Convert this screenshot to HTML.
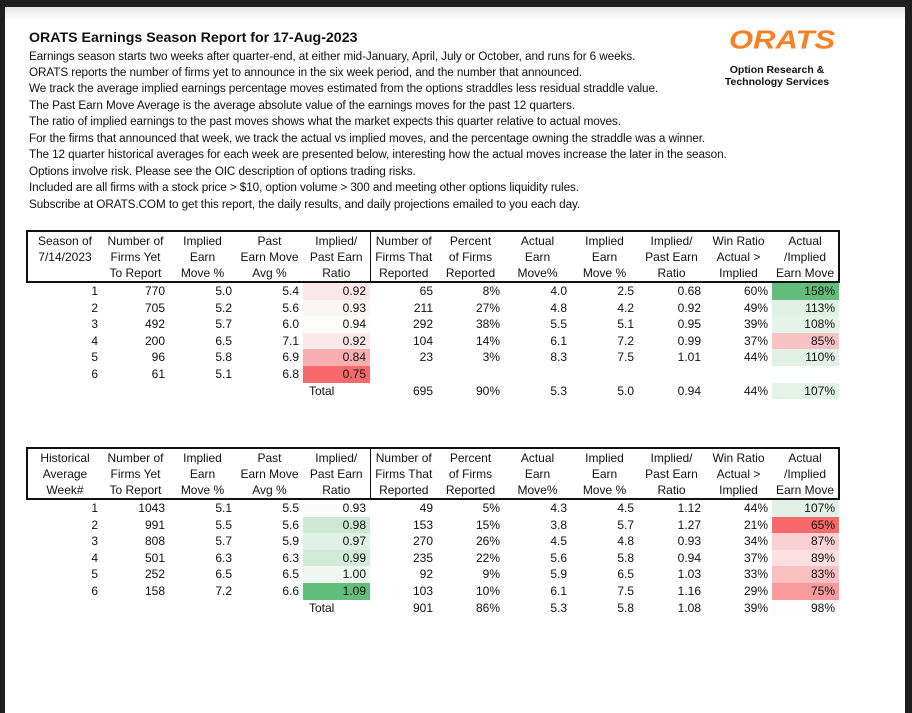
<!DOCTYPE html>
<html><head><meta charset="utf-8"><style>
*{margin:0;padding:0;box-sizing:border-box}
body{width:912px;height:713px;background:#1e1e1e;position:relative;overflow:hidden;font-family:"Liberation Sans",sans-serif;color:#111}
#page{position:absolute;left:5px;top:7px;width:900px;height:706px;background:#fff}
#band{position:absolute;left:0;top:0;width:900px;height:14px;background:linear-gradient(#e6e6e6,#fff)}
.t{position:absolute;left:29px;font-size:11.75px;white-space:nowrap;letter-spacing:-0.1px}
h1{position:absolute;left:29px;top:30px;font-size:14.2px;font-weight:bold;white-space:nowrap}
table{position:absolute;left:26px;border-collapse:collapse;table-layout:fixed;font-size:12px}
td{height:16.6px;text-align:right;padding-right:4px;white-space:nowrap;line-height:16.6px}
th{font-weight:normal;text-align:center;line-height:16px;vertical-align:top;padding-top:1px;height:50px}
thead tr{border:2.5px solid #111}
th.d{border-left:1.5px solid #111}
.logo{position:absolute;left:729px;top:22px;font-size:31px;font-weight:bold;color:#f58025;letter-spacing:0px;font-style:italic;transform:scaleY(0.85)}
.lt{position:absolute;left:722px;width:110px;text-align:center;font-size:10.5px;font-weight:bold;line-height:12px}
</style></head><body>
<div id="page"><div id="band"></div></div>
<h1>ORATS Earnings Season Report for 17-Aug-2023</h1>
<div class="t" style="top:50px">Earnings season starts two weeks after quarter-end, at either mid-January, April, July or October, and runs for 6 weeks.</div>
<div class="t" style="top:66px">ORATS reports the number of firms yet to announce in the six week period, and the number that announced.</div>
<div class="t" style="top:82px">We track the average implied earnings percentage moves estimated from the options straddles less residual straddle value.</div>
<div class="t" style="top:99px">The Past Earn Move Average is the average absolute value of the earnings moves for the past 12 quarters.</div>
<div class="t" style="top:115px">The ratio of implied earnings to the past moves shows what the market expects this quarter relative to actual moves.</div>
<div class="t" style="top:132px">For the firms that announced that week, we track the actual vs implied moves, and the percentage owning the straddle was a winner.</div>
<div class="t" style="top:148px">The 12 quarter historical averages for each week are presented below, interesting how the actual moves increase the later in the season.</div>
<div class="t" style="top:165px">Options involve risk. Please see the OIC description of options trading risks.</div>
<div class="t" style="top:181px">Included are all firms with a stock price &gt; $10, option volume &gt; 300 and meeting other options liquidity rules.</div>
<div class="t" style="top:198px">Subscribe at ORATS.COM to get this report, the daily results, and daily projections emailed to you each day.</div>
<div class="logo">ORATS</div>
<div class="lt" style="top:64px">Option Research &amp;<br>Technology Services</div>

<table style="top:230px;width:812px">
<colgroup><col style="width:75px"><col span="11" style="width:67px"></colgroup>
<thead><tr><th>Season of<br>7/14/2023</th><th>Number of<br>Firms Yet<br>To Report</th><th>Implied<br>Earn<br>Move %</th><th>Past<br>Earn Move<br>Avg %</th><th>Implied/<br>Past Earn<br>Ratio</th><th class="d">Number of<br>Firms That<br>Reported</th><th>Percent<br>of Firms<br>Reported</th><th>Actual<br>Earn<br>Move%</th><th>Implied<br>Earn<br>Move %</th><th>Implied/<br>Past Earn<br>Ratio</th><th>Win Ratio<br>Actual &gt;<br>Implied</th><th>Actual<br>/Implied<br>Earn Move</th></tr></thead>
<tbody>
<tr><td>1</td><td>770</td><td>5.0</td><td>5.4</td><td style="background:#fbe6e8">0.92</td><td>65</td><td>8%</td><td>4.0</td><td>2.5</td><td>0.68</td><td>60%</td><td style="background:#63be7b">158%</td></tr>
<tr><td>2</td><td>705</td><td>5.2</td><td>5.6</td><td style="background:#fcf5f6">0.93</td><td>211</td><td>27%</td><td>4.8</td><td>4.2</td><td>0.92</td><td>49%</td><td style="background:#dff0e4">113%</td></tr>
<tr><td>3</td><td>492</td><td>5.7</td><td>6.0</td><td style="background:#fdfcfc">0.94</td><td>292</td><td>38%</td><td>5.5</td><td>5.1</td><td>0.95</td><td>39%</td><td style="background:#e6f3ea">108%</td></tr>
<tr><td>4</td><td>200</td><td>6.5</td><td>7.1</td><td style="background:#fbe8ea">0.92</td><td>104</td><td>14%</td><td>6.1</td><td>7.2</td><td>0.99</td><td>37%</td><td style="background:#f9c3c5">85%</td></tr>
<tr><td>5</td><td>96</td><td>5.8</td><td>6.9</td><td style="background:#f9aeb0">0.84</td><td>23</td><td>3%</td><td>8.3</td><td>7.5</td><td>1.01</td><td>44%</td><td style="background:#e1f1e6">110%</td></tr>
<tr><td>6</td><td>61</td><td>5.1</td><td>6.8</td><td style="background:#f8696b">0.75</td><td></td><td></td><td></td><td></td><td></td><td></td><td></td></tr>
<tr><td></td><td></td><td></td><td></td><td style="text-align:left;padding-left:6px">Total</td><td>695</td><td>90%</td><td>5.3</td><td>5.0</td><td>0.94</td><td>44%</td><td style="background:#e4f3e8">107%</td></tr>
</tbody></table>

<table style="top:447px;width:812px">
<colgroup><col style="width:75px"><col span="11" style="width:67px"></colgroup>
<thead><tr><th>Historical<br>Average<br>Week#</th><th>Number of<br>Firms Yet<br>To Report</th><th>Implied<br>Earn<br>Move %</th><th>Past<br>Earn Move<br>Avg %</th><th>Implied/<br>Past Earn<br>Ratio</th><th class="d">Number of<br>Firms That<br>Reported</th><th>Percent<br>of Firms<br>Reported</th><th>Actual<br>Earn<br>Move%</th><th>Implied<br>Earn<br>Move %</th><th>Implied/<br>Past Earn<br>Ratio</th><th>Win Ratio<br>Actual &gt;<br>Implied</th><th>Actual<br>/Implied<br>Earn Move</th></tr></thead>
<tbody>
<tr><td>1</td><td>1043</td><td>5.1</td><td>5.5</td><td style="background:#fafbfa">0.93</td><td>49</td><td>5%</td><td>4.3</td><td>4.5</td><td>1.12</td><td>44%</td><td style="background:#e2f1e6">107%</td></tr>
<tr><td>2</td><td>991</td><td>5.5</td><td>5.6</td><td style="background:#cde9d5">0.98</td><td>153</td><td>15%</td><td>3.8</td><td>5.7</td><td>1.27</td><td>21%</td><td style="background:#f8696b">65%</td></tr>
<tr><td>3</td><td>808</td><td>5.7</td><td>5.9</td><td style="background:#e0f1e5">0.97</td><td>270</td><td>26%</td><td>4.5</td><td>4.8</td><td>0.93</td><td>34%</td><td style="background:#fbd0d2">87%</td></tr>
<tr><td>4</td><td>501</td><td>6.3</td><td>6.3</td><td style="background:#d2ebd9">0.99</td><td>235</td><td>22%</td><td>5.6</td><td>5.8</td><td>0.94</td><td>37%</td><td style="background:#fcdfe0">89%</td></tr>
<tr><td>5</td><td>252</td><td>6.5</td><td>6.5</td><td style="background:#eef7f1">1.00</td><td>92</td><td>9%</td><td>5.9</td><td>6.5</td><td>1.03</td><td>33%</td><td style="background:#fac1c3">83%</td></tr>
<tr><td>6</td><td>158</td><td>7.2</td><td>6.6</td><td style="background:#63be7b">1.09</td><td>103</td><td>10%</td><td>6.1</td><td>7.5</td><td>1.16</td><td>29%</td><td style="background:#f99a9c">75%</td></tr>
<tr><td></td><td></td><td></td><td></td><td style="text-align:left;padding-left:6px">Total</td><td>901</td><td>86%</td><td>5.3</td><td>5.8</td><td>1.08</td><td>39%</td><td style="background:#fcfcfc">98%</td></tr>
</tbody></table>
</body></html>
